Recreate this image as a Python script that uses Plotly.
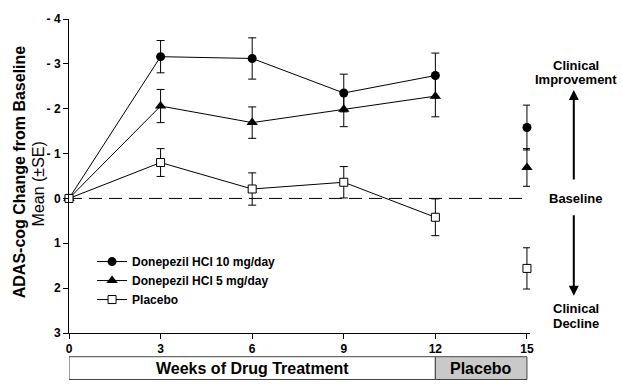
import plotly.graph_objects as go

# ---- data ----
weeks = [0, 3, 6, 9, 12]
d10_mean = [0, -3.16, -3.12, -2.35, -2.74]
d10_se = [0, 0.36, 0.46, 0.42, 0.50]
d5_mean = [0, -2.06, -1.69, -1.99, -2.28]
d5_se = [0, 0.37, 0.35, 0.39, 0.46]
pl_mean = [0, -0.80, -0.21, -0.36, 0.42]
pl_se = [0, 0.31, 0.36, 0.35, 0.41]

wk15 = [15]
d10_15 = [-1.58]
d10_15_se = [0.50]
d5_15 = [-0.69]
d5_15_se = [0.42]
pl_15 = [1.56]
pl_15_se = [0.46]

y_tickvals = [-4, -3, -2, -1, 0, 1, 2, 3]
y_ticktext = ["- 4", "- 3", "- 2", "- 1", "0", "1", "2", "3"]
x_tickvals = [0, 3, 6, 9, 12, 15]

series = [
    ("Donepezil HCl 10 mg/day", d10_mean, d10_se, d10_15, d10_15_se,
     dict(symbol="circle", size=9, color="black")),
    ("Donepezil HCl 5 mg/day", d5_mean, d5_se, d5_15, d5_15_se,
     dict(symbol="triangle-up", size=10, color="black")),
    ("Placebo", pl_mean, pl_se, pl_15, pl_15_se,
     dict(symbol="square", size=8, color="white", line=dict(color="black", width=1))),
]

FONT = "Liberation Sans, Arial, sans-serif"
fig = go.Figure()

for i, (name, m, se, m15, se15, mk) in enumerate(series):
    err = dict(type="data", array=se, visible=True, color="black", thickness=1, width=4)
    fig.add_trace(go.Scatter(
        x=weeks, y=m, mode="lines+markers", name=name, legendgroup=name,
        line=dict(color="black", width=1), marker=mk, error_y=err, cliponaxis=False))
    err15 = dict(type="data", array=se15, visible=True, color="black", thickness=1, width=4)
    fig.add_trace(go.Scatter(
        x=wk15, y=m15, mode="markers", name=name, legendgroup=name, showlegend=False,
        marker=mk, error_y=err15, cliponaxis=False))

fig.add_shape(type="line", xref="x", yref="y", x0=0, x1=15, y0=0, y1=0,
              line=dict(color="black", width=1, dash="13px,7px"), layer="below")

# bottom phase boxes
fig.add_shape(type="rect", xref="x", yref="paper", x0=0, x1=12, y0=-0.148, y1=-0.0755,
              line=dict(color="#444", width=1), fillcolor="white")
fig.add_shape(type="rect", xref="x", yref="paper", x0=12, x1=15, y0=-0.148, y1=-0.0755,
              line=dict(color="#444", width=1), fillcolor="#c9c9c9")

ann = []
ann.append(dict(x=6, y=-0.112, xref="x", yref="paper", text="<b>Weeks of Drug Treatment</b>",
                showarrow=False, xanchor="center", yanchor="middle",
                font=dict(size=16, color="black")))
ann.append(dict(x=13.5, y=-0.112, xref="x", yref="paper", text="<b>Placebo</b>",
                showarrow=False, xanchor="center", yanchor="middle",
                font=dict(size=16, color="black")))

# y title
ann.append(dict(x=-0.107, y=0.514, xref="paper", yref="paper", textangle=-90,
                text="<b>ADAS-cog Change from Baseline</b>", showarrow=False,
                xanchor="center", yanchor="middle", font=dict(size=16, color="black")))
ann.append(dict(x=-0.066, y=0.475, xref="paper", yref="paper", textangle=-90,
                text="Mean (±SE)", showarrow=False, xanchor="center", yanchor="middle",
                font=dict(size=16, color="black")))

# right side annotations
rx = 1.099
for txt, yy in [("Clinical", 0.852), ("Improvement", 0.808), ("Clinical", 0.079), ("Decline", 0.031)]:
    ann.append(dict(x=rx, y=yy, xref="paper", yref="paper", text="<b>%s</b>" % txt,
                    showarrow=False, xanchor="center", yanchor="middle",
                    font=dict(size=13, color="black")))
ann.append(dict(x=rx, y=0, xref="paper", yref="y", text="<b>Baseline</b>",
                showarrow=False, xanchor="center", yanchor="middle",
                font=dict(size=13, color="black")))
ann.append(dict(x=1.095, y=0.774, xref="paper", yref="paper", text="", showarrow=True,
                ax=0, ay=91, arrowhead=2, arrowsize=1, arrowwidth=2, arrowcolor="black"))
ann.append(dict(x=1.095, y=0.119, xref="paper", yref="paper", text="", showarrow=True,
                ax=0, ay=-82, arrowhead=2, arrowsize=1, arrowwidth=2, arrowcolor="black"))

fig.update_layout(
    width=622, height=386,
    margin=dict(l=69, r=92, t=15, b=53),
    paper_bgcolor="white", plot_bgcolor="white",
    font=dict(family=FONT, color="black"),
    annotations=ann,
    showlegend=True,
    legend=dict(x=0.05, y=0.167, xanchor="left", yanchor="middle",
                bgcolor="rgba(0,0,0,0)", font=dict(size=12, weight="bold", color="black"),
                itemwidth=30, tracegroupgap=0),
)
fig.update_xaxes(range=[0, 15.1], tickvals=x_tickvals, ticks="outside", ticklen=5,
                 tickcolor="black", showline=True, linecolor="black", linewidth=1,
                 showgrid=False, zeroline=False,
                 tickfont=dict(size=12, weight="bold", color="black"))
fig.update_yaxes(range=[3, -4], tickvals=y_tickvals, ticktext=y_ticktext, ticks="outside",
                 ticklen=5, tickcolor="black", showline=True, linecolor="black", linewidth=1,
                 showgrid=False, zeroline=False,
                 tickfont=dict(size=12, weight="bold", color="black"))

fig.write_html("out.html", config={"displayModeBar": False},
               post_script="document.body.style.margin='0';")
